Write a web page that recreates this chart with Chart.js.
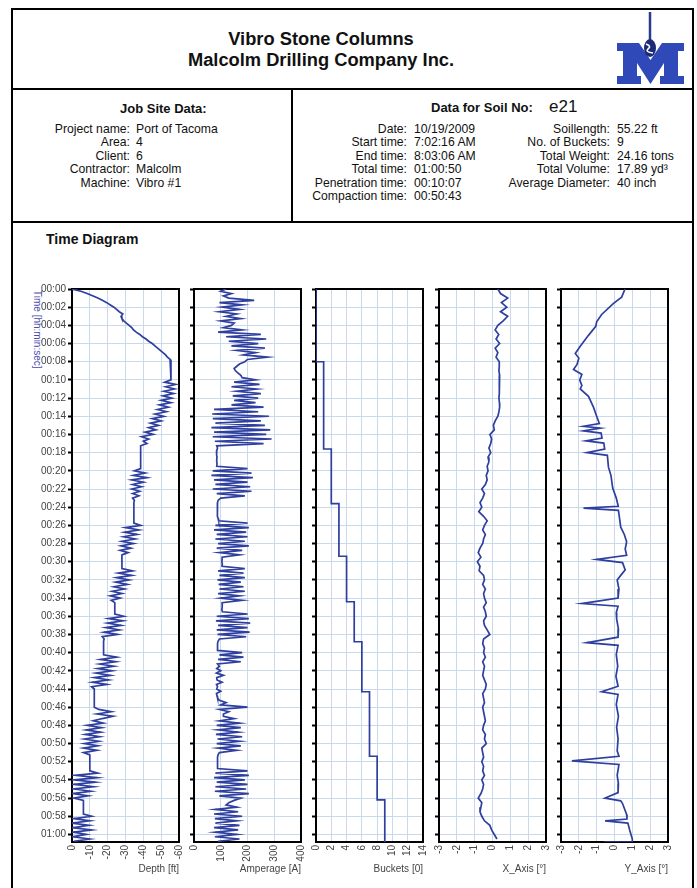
<!DOCTYPE html>
<html lang="en">
<head>
    <meta charset="UTF-8">
    <title>Vibro Stone Columns - Time Diagram</title>
    <script src="https://cdn.jsdelivr.net/npm/chart.js"></script>
    <style>
        body { margin: 0; background: #fff; font-family: 'Liberation Sans', Arial, sans-serif; color: #111; }
        #page { position: relative; width: 697px; height: 888px; overflow: hidden; }
        .frame { position: absolute; left: 11px; top: 8px; width: 679px; height: 900px; border: 2px solid #000; }
        .hline { position: absolute; left: 12px; width: 680px; height: 2px; background: #000; }
        .vline { position: absolute; width: 2px; background: #000; }
        .abs { position: absolute; white-space: nowrap; }
        .head { left: 12px; width: 618px; text-align: center; font-weight: bold; font-size: 18.3px; }
        .col { position: absolute; font-size: 12.2px; line-height: 13.4px; white-space: nowrap; }
        .lab { text-align: right; }
        .ytitle { position: absolute; left: 32px; top: 290px; writing-mode: vertical-rl; font-size: 10px; color: #4a4aae; }
        canvas { position: absolute; }
    </style>
</head>
<body>
<div id="page">
    <div class="frame"></div>
    <div class="hline" style="top:88px"></div>
    <div class="hline" style="top:221px"></div>
    <div class="vline" style="left:291px; top:89px; height:133px"></div>

    <div class="abs head" style="top:28px">Vibro Stone Columns</div>
    <div class="abs head" style="top:49px">Malcolm Drilling Company Inc.</div>

    <svg class="abs" style="left:612px; top:10px" width="76" height="78" viewBox="0 0 76 78">
        <line x1="38" y1="2" x2="38" y2="34" stroke="#2a3a8c" stroke-width="2.5"/>
        <polygon fill="#2f4ab8" points="5,33 27,33 38.5,50 50,33 72,33 72,41 66,41 66,66 72,66 72,74 48,74 48,66 52,66 52,53 38.5,74 25,53 25,66 29,66 29,74 5,74 5,66 11,66 11,41 5,41"/>
        <ellipse cx="38" cy="38" rx="6" ry="9" fill="#1d2a78"/>
        <path d="M34,34 Q40,36 36,39 Q33,42 41,43" stroke="#fff" stroke-width="1.6" fill="none"/>
    </svg>

    <div class="abs" style="left:120px; top:101px; font-weight:bold; font-size:13px">Job Site Data:</div>
    <div class="col lab" style="left:20px; width:110px; top:123px">Project name:<br>Area:<br>Client:<br>Contractor:<br>Machine:</div>
    <div class="col" style="left:136px; top:123px">Port of Tacoma<br>4<br>6<br>Malcolm<br>Vibro #1</div>

    <div class="abs" style="left:431px; top:100px; font-weight:bold; font-size:13px">Data for Soil No:</div>
    <div class="abs" style="left:549px; top:97px; font-size:17px">e21</div>
    <div class="col lab" style="left:296px; width:111px; top:123px">Date:<br>Start time:<br>End time:<br>Total time:<br>Penetration time:<br>Compaction time:</div>
    <div class="col" style="left:414px; top:123px">10/19/2009<br>7:02:16 AM<br>8:03:06 AM<br>01:00:50<br>00:10:07<br>00:50:43</div>
    <div class="col lab" style="left:500px; width:110px; top:123px">Soillength:<br>No. of Buckets:<br>Total Weight:<br>Total Volume:<br>Average Diameter:</div>
    <div class="col" style="left:617px; top:123px">55.22 ft<br>9<br>24.16 tons<br>17.89 yd&sup3;<br>40 inch</div>

    <div class="abs" style="left:46px; top:231px; font-weight:bold; font-size:14px">Time Diagram</div>
    <div class="ytitle">Time [hh:min:sec]</div>
</div>

<script>
    // time axis, minutes from start of the column (total 01:00:50)
    const timeMax = 60.83;
    const timeStepTick = 2;

    // depth and amperage are logged every 15 s (4 values per minute, one row per minute)
    const sampleStep = 0.25;
    const depthFt = [
        0, -5, -8.5, -11.5,          // 00
        -14.5, -17, -19.5, -21.5,
        -23.5, -25, -26.5, -28.5,
        -27.5, -28, -29, -30.5,
        -32, -33.5, -34.5, -36,
        -38, -39.5, -41.5, -43,      // 05
        -45, -46.5, -48, -49.5,
        -51, -52.5, -53.5, -55,
        -55.5, -55.5, -55.5, -55.5,
        -55.5, -55.5, -55.5, -55.5,
        -55.5, -52, -58, -52.5,      // 10
        -57.5, -51.5, -57, -51,
        -56, -50, -55.5, -49,
        -54, -48, -53, -46.5,
        -51.5, -45, -50, -44,
        -48.5, -43, -47, -41,        // 15
        -45.5, -39, -43, -40,
        -42, -38.5, -38.5, -38.5,
        -38.5, -38.5, -38.5, -38.5,
        -38.5, -38.5, -38.5, -38.5,
        -35, -41, -34.5, -42,        // 20
        -33.5, -40, -34, -39,
        -33.5, -38, -34, -37.5,
        -34, -35, -34.7, -34.7,
        -34.7, -34.7, -34.7, -34.7,
        -34.7, -34.7, -34.7, -34.7,  // 25
        -38.5, -30, -37.5, -29.5,
        -36.5, -29, -35.5, -28,
        -34.5, -27.5, -33, -27,
        -31.5, -28, -28, -28,
        -28, -28, -28, -28,          // 30
        -34, -26, -33.5, -25,
        -32, -24.5, -31, -23.5,
        -29.5, -22.5, -28, -21.5,
        -27, -22, -24, -24,
        -24, -24, -24, -24,          // 35
        -29, -20.5, -28.5, -20,
        -27.5, -19, -26.5, -18,
        -25.5, -17, -18, -17.7,
        -17.7, -17.7, -17.7, -17.7,
        -17.7, -17.7, -25, -16,      // 40
        -24.5, -15.5, -23.5, -14.5,
        -22.5, -13.5, -21.5, -12.5,
        -20.5, -11.5, -19.5, -11,
        -12.5, -12.5, -12.5, -12.5,
        -12.5, -12.5, -12.5, -12.5,  // 45
        -12.5, -15, -22, -14,
        -23, -17, -12, -17.5,
        -8.5, -16.5, -8, -16,
        -7.5, -15.5, -7, -15,
        -7, -14.5, -6.5, -14,        // 50
        -6.5, -10, -10, -10,
        -10, -10, -10, -10,
        -10, -14.5, -2, -14,
        -1.5, -13, -1, -12,
        -1, -10.5, -0.5, -9,         // 55
        -1, -6.4, -6.4, -6.4,
        -6.4, -6.4, -6.4, -6.4,
        -11, -1, -10, 0,
        -9.5, -0.5, -11, -1,
        -8, -0.5, -10, -1            // 60
    ];

    const amperageA = [
        120, 100, 140, 110,          // 00
        130, 225, 95, 180,
        105, 170, 95, 160,
        120, 175, 100, 150,
        140, 110, 180, 90,
        250, 120, 270, 130,          // 05
        240, 140, 265, 160,
        230, 185, 275, 200,
        190, 170, 160, 150,
        155, 165, 175, 180,
        230, 150, 245, 140,          // 10
        235, 160, 250, 145,
        240, 150, 230, 140,
        260, 75, 240, 68,
        280, 70, 250, 80,
        265, 65, 285, 75,            // 15
        270, 70, 290, 78,
        260, 85, 88, 85,
        85, 84, 86, 85,
        85, 86, 85, 200,
        70, 215, 65, 220,            // 20
        75, 200, 80, 210,
        70, 215, 85, 190,
        100, 90, 88, 87,
        86, 87, 88, 88,
        89, 90, 92, 200,             // 25
        80, 205, 75, 195,
        85, 200, 80, 190,
        90, 205, 85, 180,
        95, 170, 105, 105,
        104, 106, 105, 190,          // 30
        90, 185, 95, 190,
        88, 175, 92, 185,
        95, 190, 90, 170,
        100, 180, 105, 106,
        105, 104, 106, 200,          // 35
        85, 205, 82, 210,
        90, 200, 85, 208,
        88, 195, 95, 90,
        88, 87, 88, 89,
        180, 95, 185, 90,            // 40
        175, 88, 95, 85,
        100, 84, 110, 85,
        86, 105, 84, 88,
        85, 100, 84, 86,
        88, 95, 120, 100,            // 45
        200, 95, 130, 110,
        110, 150, 95, 170,
        85, 175, 90, 165,
        82, 180, 88, 170,
        85, 175, 90, 160,            // 50
        95, 90, 88, 88,
        87, 88, 89, 88,
        200, 80, 205, 75,
        190, 85, 200, 80,
        195, 78, 205, 95,            // 55
        175, 150, 130, 120,
        160, 80, 165, 75,
        180, 78, 160, 80,
        170, 75, 165, 80,
        160, 78, 170, 90             // 60
    ];

    // inclination logged every 30 s (2 values per minute)
    const tiltStep = 0.5;
    const xTiltDeg = [
        0.3, 0.45,   0.85, 0.5,   0.8, 0.45,   0.85, 0.6,   0.3, 0.15,      // 00-04
        0.35, 0.2,   0.4, 0.15,   0.3, 0.2,    0.38, 0.38,  0.36, 0.4,      // 05-09
        0.38, 0.37,  0.4, 0.38,   0.36, 0.39,  0.4, 0.36,   0.3, 0.15,      // 10-14
        0.05, 0.1,   -0.14, -0.05, -0.1, -0.2, -0.1, -0.25, -0.2, -0.3,     // 15-19
        -0.25, -0.35, -0.3, -0.4, -0.6, -0.45, -0.55, -0.7, -0.6, -0.77,    // 20-24
        -0.5, -0.3,  -0.45, -0.55, -0.4, -0.5, -0.55, -0.7, -0.8, -0.65,    // 25-29
        -0.85, -0.7, -0.75, -0.5, -0.45, -0.55, -0.4, -0.5, -0.45, -0.35,   // 30-34
        -0.5, -0.4,  -0.35, -0.5, -0.45, -0.3, -0.15, -0.5, -0.55, -0.45,   // 35-39
        -0.5, -0.4,  -0.55, -0.45, -0.5, -0.55, -0.45, -0.35, -0.4, -0.55,  // 40-44
        -0.5, -0.45, -0.55, -0.5, -0.45, -0.4, -0.5, -0.55, -0.4, -0.45,    // 45-49
        -0.35, -0.6, -0.55, -0.5, -0.6, -0.5, -0.55, -0.45, -0.6, -0.5,     // 50-54
        -0.55, -0.65, -0.8, -0.6, -0.65, -0.7, -0.6, -0.45, -0.15, -0.05,   // 55-59
        0.1, 0.25                                                          // 60
    ];

    // Y axis has short spikes, so it keeps its own time stamps
    const yTiltTime = [0, 0.9, 1.6, 2.8, 3.6, 4.1, 5.1, 6.3, 7.1, 7.6, 8.3, 8.85, 9.4, 10.0, 10.6, 11.0, 11.8, 13.0, 14.0, 14.8,
        15.1, 15.3, 15.6, 15.85, 16.4, 16.7, 16.95, 17.6, 18.0, 18.3, 19.6, 20.5, 21.9, 23.0, 23.9, 24.1, 24.35, 26.2, 27.0, 27.8,
        28.6, 29.3, 29.75, 30.1, 30.9, 31.5, 32.0, 33.0, 34.0, 34.6, 34.9, 35.6, 36.3, 37.4, 38.3, 38.9, 39.2, 40.2, 41.5, 42.6,
        43.7, 44.3, 44.6, 45.7, 47.0, 48.2, 49.5, 50.8, 51.4, 51.9, 52.3, 53.5, 54.4, 55.4, 56.0, 56.3, 56.6, 57.8, 58.3, 58.5,
        58.75, 59.5, 60.5, 60.8, 60.83];
    const yTiltDeg = [0.59, 0.4, -0.07, -0.72, -1.0, -1.05, -1.46, -1.92, -2.2, -2.0, -2.1, -2.3, -1.83, -1.95, -1.83, -1.92, -1.46, -1.18, -1.0, -0.85,
        -1.74, -0.8, -1.74, -0.75, -0.7, -1.6, -0.6, -0.55, -1.55, -0.4, -0.34, -0.2, -0.1, 0.1, 0.21, -1.74, 0.22, 0.35, 0.55, 0.68,
        0.6, 0.68, -1.0, 0.45, 0.6, 0.35, 0.15, 0.25, 0.2, -1.83, 0.2, 0.1, 0.12, 0.22, 0.2, -1.55, 0.2, 0.1, 0.18, 0.08,
        0.2, -0.72, 0.2, 0.1, 0.22, 0.12, 0.2, 0.15, 0.25, -2.39, 0.25, 0.15, 0.22, 0.2, -0.53, 0.35, 0.45, 0.68, 0.7, -0.53,
        0.75, 0.85, 1.0, 1.0, -0.6];

    // bucket counter steps up when a bucket is dumped
    const bucketTime = [0, 8.0, 17.6, 23.6, 29.4, 34.4, 38.8, 44.3, 51.4, 56.2, 60.83];
    const bucketCount = [0, 1, 2, 3, 4, 5, 6, 7, 8, 9, 9];

    const lineColor = '#2e3f9f';
    const gridColor = '#c9d8ea';
    const plotTop = 289, plotWidth = 107;

    Chart.defaults.font.family = "'Liberation Sans', Arial, sans-serif";
    Chart.defaults.color = '#444';

    const byStep = (vals, step) => vals.map((v, i) => ({ x: v, y: i * step }));
    const byTime = (vals, times) => vals.map((v, i) => ({ x: v, y: times[i] }));

    // depth axis runs 0 .. -60 left to right: plot the distance below ground, label it negative
    const depthPoints = byStep(depthFt, sampleStep).map(p => ({ x: -p.x, y: p.y }));
    const negLabel = v => String(-v);

    const panels = [
        { left: 72,  yw: 52, labels: true,  title: 'Depth [ft]',   min: 0,  max: 60,  step: 10,  data: depthPoints, tickFmt: negLabel },
        { left: 194, yw: 8,  labels: false, title: 'Amperage [A]', min: 0,  max: 400, step: 100, data: byStep(amperageA, sampleStep) },
        { left: 316, yw: 8,  labels: false, title: 'Buckets [0]',  min: 0,  max: 14,  step: 2,   data: byTime(bucketCount, bucketTime), stepped: 'after' },
        { left: 439, yw: 8,  labels: false, title: 'X_Axis [°]',   min: -3, max: 3,   step: 1,   data: byStep(xTiltDeg, tiltStep) },
        { left: 561, yw: 8,  labels: false, title: 'Y_Axis [°]',   min: -3, max: 3,   step: 1,   data: byTime(yTiltDeg, yTiltTime) }
    ];

    // black box round each plot, drawn under the curve
    const framePlugin = {
        id: 'frame',
        beforeDatasetsDraw(chart) {
            const { ctx, chartArea: a } = chart;
            ctx.save();
            ctx.strokeStyle = '#000';
            ctx.lineWidth = 2;
            ctx.strokeRect(a.left, a.top, a.right - a.left, a.bottom - a.top);
            ctx.restore();
        }
    };

    const fmtTime = v => {
        const m = Math.round(v);
        return String(Math.floor(m / 60)).padStart(2, '0') + ':' + String(m % 60).padStart(2, '0');
    };

    const padTop = 8, padRight = 10, xAxisH = 46;
    const page = document.getElementById('page');

    panels.forEach(p => {
        const cv = document.createElement('canvas');
        cv.width = p.yw + plotWidth + padRight;
        cv.height = 888 - (plotTop - padTop);
        cv.style.left = (p.left - p.yw) + 'px';
        cv.style.top = (plotTop - padTop) + 'px';
        page.appendChild(cv);

        const xTicks = { stepSize: p.step, autoSkip: false, minRotation: 90, maxRotation: 90, padding: 3, font: { size: 10 }, color: '#444' };
        if (p.tickFmt) xTicks.callback = p.tickFmt;

        new Chart(cv, {
            type: 'scatter',
            data: {
                datasets: [{
                    data: p.data,
                    showLine: true,
                    stepped: p.stepped || false,
                    borderColor: lineColor,
                    borderWidth: 1.7,
                    pointRadius: 0,
                    tension: 0
                }]
            },
            options: {
                responsive: false,
                animation: false,
                events: [],
                layout: { padding: { top: padTop, right: padRight, left: 0, bottom: 0 } },
                plugins: { legend: { display: false }, tooltip: { enabled: false } },
                scales: {
                    x: {
                        type: 'linear',
                        position: 'bottom',
                        min: p.min,
                        max: p.max,
                        border: { display: false },
                        grid: { color: gridColor, drawTicks: false },
                        ticks: xTicks,
                        title: { display: true, text: p.title, align: 'end', font: { size: 10 }, color: '#444', padding: { top: 0, bottom: 13 } },
                        afterFit: s => { s.height = xAxisH; s.paddingLeft = 0; s.paddingRight = 0; }
                    },
                    y: {
                        type: 'linear',
                        position: 'left',
                        min: 0,
                        max: timeMax,
                        reverse: true,
                        border: { display: false },
                        grid: { color: gridColor, tickColor: '#000', tickLength: 4, tickWidth: 2 },
                        ticks: { display: p.labels, stepSize: timeStepTick, includeBounds: false, autoSkip: false, padding: 2, font: { size: 10 }, color: '#444', callback: fmtTime },
                        afterFit: s => { s.width = p.yw; s.paddingTop = 0; s.paddingBottom = 0; }
                    }
                }
            },
            plugins: [framePlugin]
        });
    });
</script>
</body>
</html>
